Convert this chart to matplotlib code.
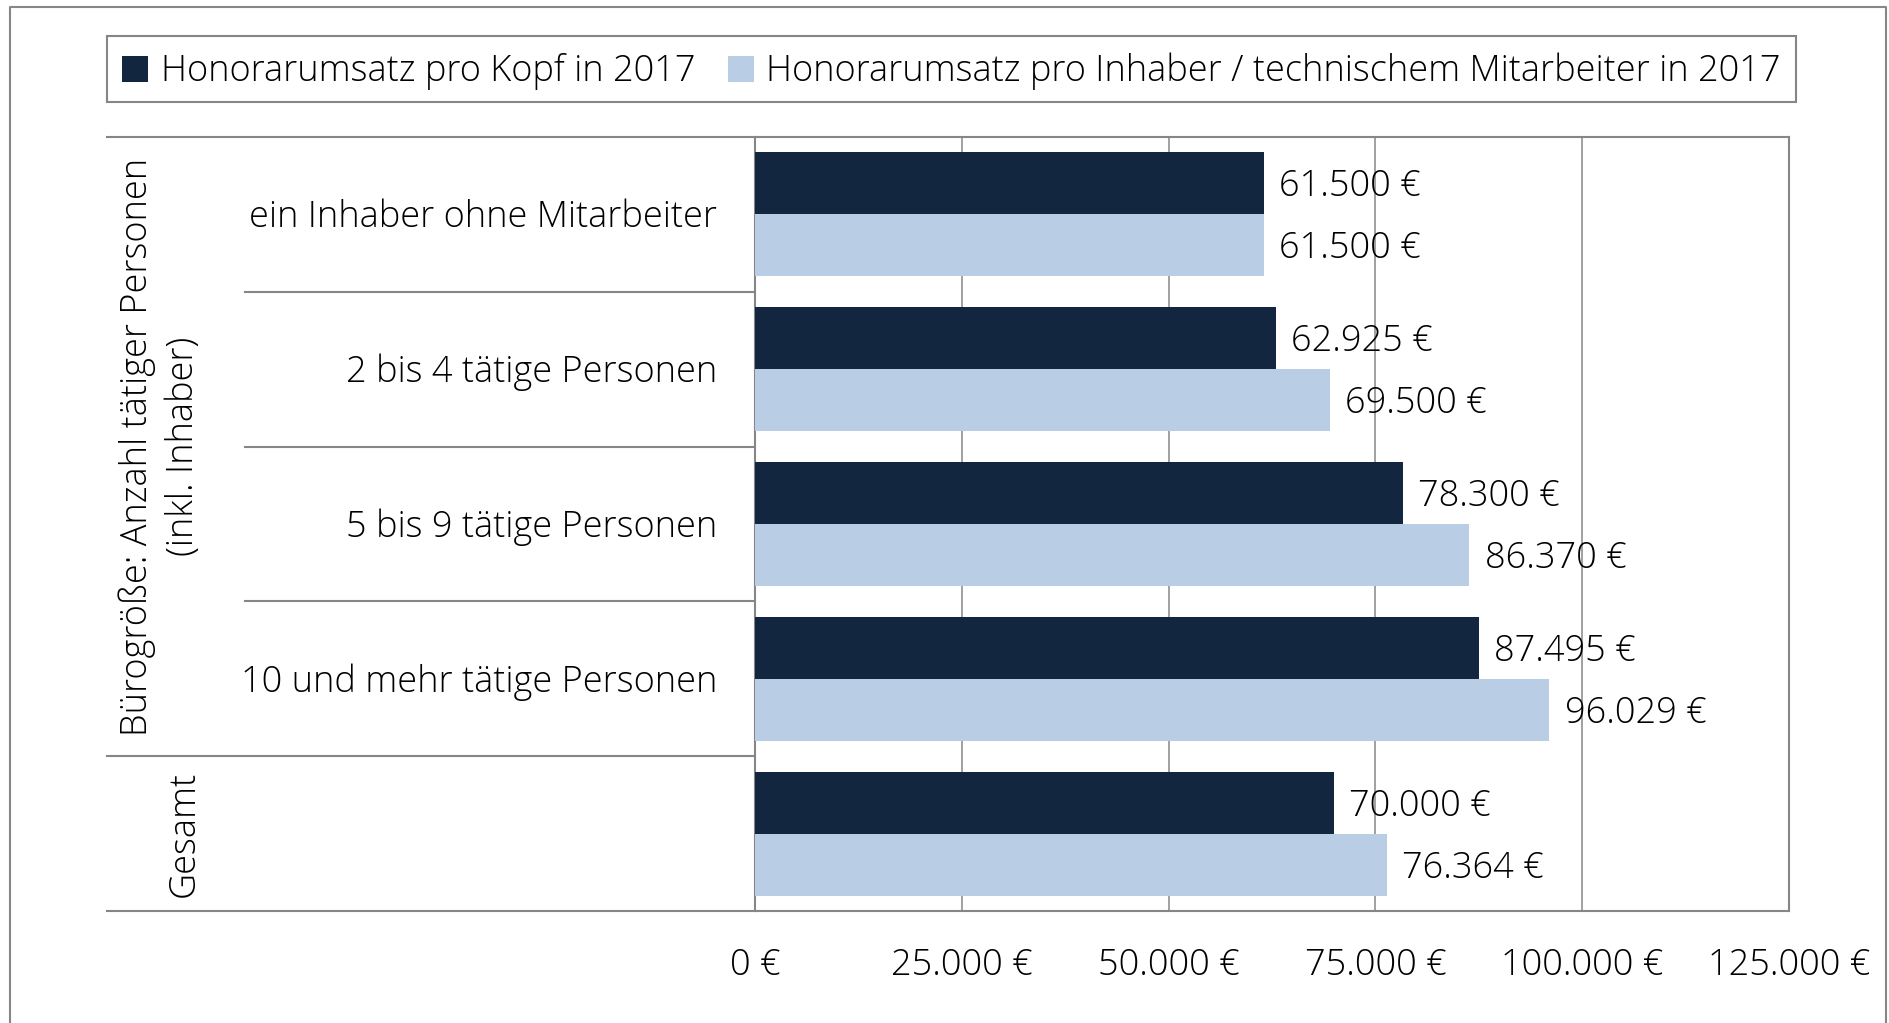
import matplotlib
matplotlib.use("Agg")
import matplotlib.pyplot as plt
import matplotlib.transforms as mtransforms
from matplotlib.lines import Line2D
from matplotlib.patches import Rectangle
import numpy as np

categories = ["ein Inhaber ohne Mitarbeiter", "2 bis 4 tätige Personen",
              "5 bis 9 tätige Personen", "10 und mehr tätige Personen", ""]
series_names = ["Honorarumsatz pro Kopf in 2017",
                "Honorarumsatz pro Inhaber / technischem Mitarbeiter in 2017"]
pro_kopf = [61500, 62925, 78300, 87495, 70000]
pro_inhaber = [61500, 69500, 86370, 96029, 76364]
xticks = [0, 25000, 50000, 75000, 100000, 125000]
group_labels = ["Bürogröße: Anzahl tätiger Personen\n(inkl. Inhaber)", "Gesamt"]

dark = "#13263f"
light = "#b9cde5"
grey = "#868686"

plt.rcParams["font.family"] = ["Open Sans", "DejaVu Sans"]
plt.rcParams["font.weight"] = "light"
fs = 26


def euro(v):
    return "{:,.0f} €".format(v).replace(",", ".")


W, H = 1890, 1023
fig = plt.figure(figsize=(W / 100, H / 100), dpi=100)

# plot area in pixel terms
x0, x1, y0, y1 = 755, 1789, 137, 911
ax = fig.add_axes([x0 / W, 1 - y1 / H, (x1 - x0) / W, (y1 - y0) / H])

y = np.arange(len(categories))
h = 0.4
ax.barh(y - h / 2, pro_kopf, height=h, color=dark, zorder=3, label=series_names[0])
ax.barh(y + h / 2, pro_inhaber, height=h, color=light, zorder=3, label=series_names[1])

for yi, v in zip(y, pro_kopf):
    ax.annotate(euro(v), (v, yi - h / 2), xytext=(11, -2.5), textcoords="offset points",
                va="center", ha="left", fontsize=fs, zorder=4)
for yi, v in zip(y, pro_inhaber):
    ax.annotate(euro(v), (v, yi + h / 2), xytext=(11, -2.5), textcoords="offset points",
                va="center", ha="left", fontsize=fs, zorder=4)

ax.set_xlim(0, 125000)
ax.set_ylim(len(categories) - 0.5, -0.5)
ax.set_xticks(xticks)
ax.set_xticklabels([euro(t) for t in xticks], fontsize=fs)
ax.set_yticks([])
ax.tick_params(axis="x", length=0, pad=26)
ax.grid(axis="x", color=grey, lw=1.1, zorder=0)
for s in ax.spines.values():
    s.set_color(grey)
    s.set_linewidth(1.5)

# category table on the left
tr = mtransforms.blended_transform_factory(fig.transFigure, ax.transData)
tr_txt = mtransforms.offset_copy(tr, fig=fig, y=-3, units="dots")
xl_outer, xl_inner = 107 / W, 245 / W
for b in [-0.5, 3.5, 4.5]:
    fig.add_artist(Line2D([xl_outer, x0 / W], [b, b], transform=tr, color=grey, lw=1.5))
for b in [0.5, 1.5, 2.5]:
    fig.add_artist(Line2D([xl_inner, x0 / W], [b, b], transform=tr, color=grey, lw=1.5))

for yi, c in zip(y, categories):
    fig.text(717 / W, yi, c, transform=tr_txt, ha="right", va="center", fontsize=fs)

fig.text(160 / W, 1.5, group_labels[0], transform=tr, rotation=90, ha="center",
         va="center", fontsize=fs, linespacing=1.3, multialignment="center")
fig.text(184 / W, 4.0, group_labels[1], transform=tr, rotation=90, ha="center",
         va="center", fontsize=fs)

# legend in a fixed box
lx0, lx1, ly0, ly1 = 107, 1796, 36, 102
fig.add_artist(Rectangle((lx0 / W, 1 - ly1 / H), (lx1 - lx0) / W, (ly1 - ly0) / H,
                         transform=fig.transFigure, fill=False, edgecolor=grey, lw=1.5))
fig.legend(loc="center", bbox_to_anchor=((lx0 + lx1) / 2 / W, 1 - (ly0 + ly1 + 5) / 2 / H),
           ncol=2, frameon=False, fontsize=fs,
           handlelength=0.72, handleheight=0.72, handletextpad=0.35,
           columnspacing=0.9, borderpad=0)

# outer chart frame
fig.add_artist(Line2D([10 / W, 10 / W, 1886 / W, 1886 / W], [0, 1 - 7 / H, 1 - 7 / H, 0],
                      transform=fig.transFigure, color=grey, lw=1.5))

fig.savefig("out.png", dpi=100)
